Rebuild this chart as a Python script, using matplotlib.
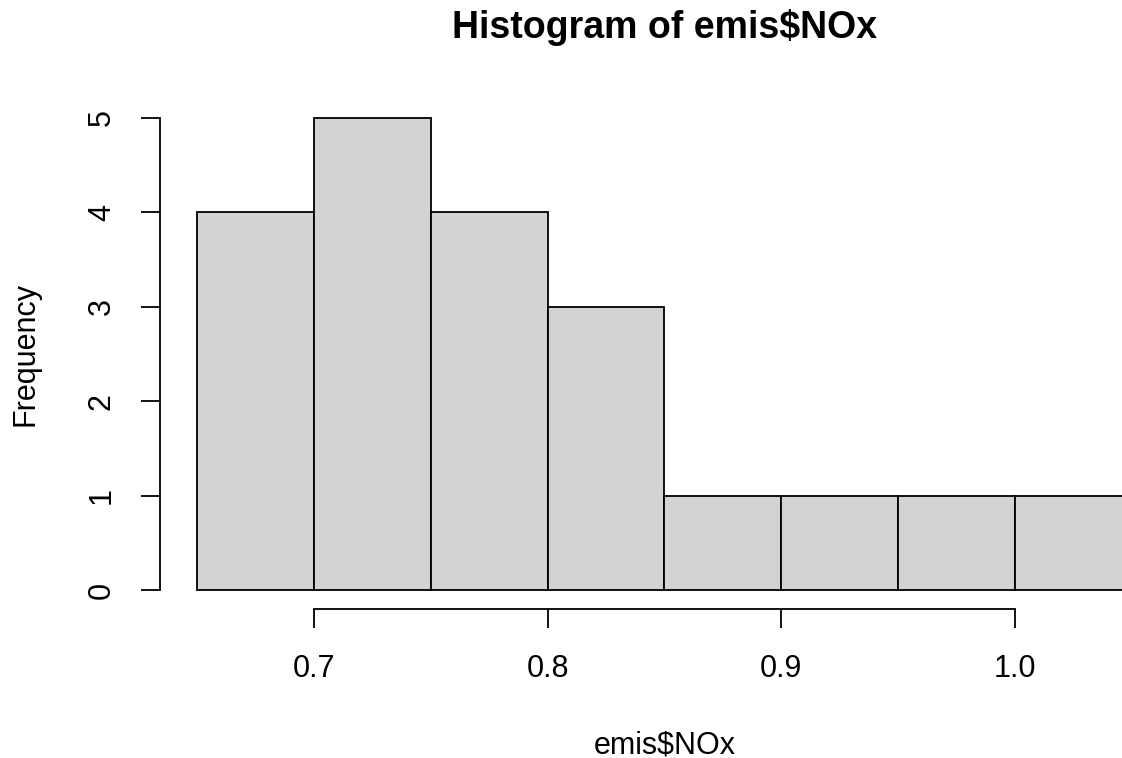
import matplotlib
matplotlib.use("Agg")
import matplotlib.pyplot as plt
import numpy as np

# Data
bin_edges = [0.65, 0.70, 0.75, 0.80, 0.85, 0.90, 0.95, 1.00, 1.05]
counts = [4, 5, 4, 3, 1, 1, 1, 1]
x_ticks = [0.7, 0.8, 0.9, 1.0]
x_tick_labels = ["0.7", "0.8", "0.9", "1.0"]
y_ticks = [0, 1, 2, 3, 4, 5]
title = "Histogram of emis$NOx"
xlabel = "emis$NOx"
ylabel = "Frequency"

plt.rcParams['font.family'] = ['Liberation Sans', 'DejaVu Sans']

W, H = 1122, 758
fig = plt.figure(figsize=(W / 100, H / 100), dpi=100)
left_px, right_px, top_px, bottom_px = 159.6, 1169.2, 99.1, 608.9
ax = fig.add_axes([left_px / W, (H - bottom_px) / H,
                   (right_px - left_px) / W, (bottom_px - top_px) / H])

edges = np.array(bin_edges)
widths = np.diff(edges)
ax.bar(edges[:-1], counts, width=widths, align='edge',
       color='#D3D3D3', edgecolor='black', linewidth=1.3)

xr = edges[-1] - edges[0]
ax.set_xlim(edges[0] - 0.04 * xr, edges[-1] + 0.04 * xr)
ax.set_ylim(-0.04 * max(counts), max(counts) * 1.04)

for s in ['top', 'right']:
    ax.spines[s].set_visible(False)
ax.spines['bottom'].set_bounds(x_ticks[0], x_ticks[-1])
ax.spines['left'].set_bounds(y_ticks[0], y_ticks[-1])
for s in ['bottom', 'left']:
    ax.spines[s].set_linewidth(1.3)

ax.set_xticks(x_ticks)
ax.set_xticklabels(x_tick_labels)
ax.set_yticks(y_ticks)
ax.set_yticklabels([str(v) for v in y_ticks], rotation=90, va='center')
ax.tick_params(axis='both', direction='out', length=13.7, width=1.3,
               labelsize=22, color='black')
ax.tick_params(axis='x', pad=19)
ax.tick_params(axis='y', pad=17)

ax.text(0.5, 1.14, title, transform=ax.transAxes, ha='center', va='center',
        fontsize=27, fontweight='bold')
ax.text(0.5, -0.267, xlabel, transform=ax.transAxes, ha='center', va='center',
        fontsize=22)
ax.text(-0.133, 0.5, ylabel, transform=ax.transAxes, ha='center', va='center',
        fontsize=22, rotation=90)

fig.savefig("out.png", dpi=100)
